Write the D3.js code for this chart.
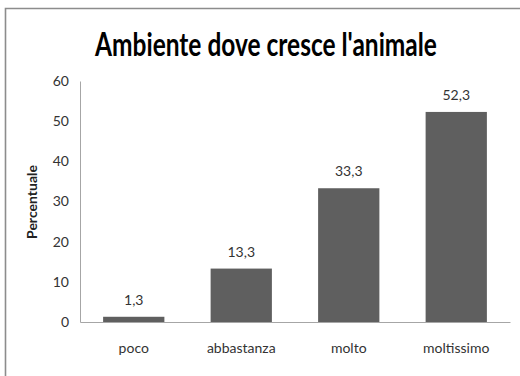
<!DOCTYPE html>
<html>
<head>
<meta charset="utf-8">
<script src="https://cdn.jsdelivr.net/npm/d3@7"></script>
<style>
  html, body { margin: 0; padding: 0; background: #fff; }
  svg { display: block; }
  text { font-family: Lato, "Open Sans", sans-serif; }
</style>
</head>
<body>
<svg id="chart" width="520" height="376"></svg>
<script>
const categories = ["poco", "abbastanza", "molto", "moltissimo"];
const values = [1.3, 13.3, 33.3, 52.3];
const yTicks = [0, 10, 20, 30, 40, 50, 60];
const title = "Ambiente dove cresce l'animale";
const yLabel = "Percentuale";

const svg = d3.select("#chart");
const W = 520, H = 376;
const plot = { left: 80, right: 510, top: 81, bottom: 322 };

// outer frame (left and top edges visible)
svg.append("path")
  .attr("d", `M5.5,${H} L5.5,8.5 L${W},8.5`)
  .attr("fill", "none")
  .attr("stroke", "#8c8c8c")
  .attr("stroke-width", 1.6);

const x = d3.scaleBand().domain(categories).range([plot.left, plot.right]).paddingInner(0.43).paddingOuter(0.215);
const y = d3.scaleLinear().domain([0, 60]).range([plot.bottom, plot.top]);

// title, condensed horizontally to a fixed width
const titleG = svg.append("g");
const titleText = titleG.append("text")
  .attr("x", 0).attr("y", 0)
  .attr("text-anchor", "middle")
  .attr("font-size", 32).attr("font-weight", "bold")
  .attr("fill", "#000")
  .text(title);
const natural = titleText.node().getComputedTextLength();
titleG.attr("transform", `translate(266,56) scale(${342 / natural},1)`);

// y axis
const yAxis = svg.append("g").attr("transform", `translate(${plot.left},0)`)
  .call(d3.axisLeft(y).tickValues(yTicks).tickSize(0).tickPadding(11).tickFormat(d3.format("d")));
yAxis.select(".domain").attr("stroke", "#a6a6a6").attr("stroke-width", 1);
yAxis.selectAll("text").attr("font-size", 14).attr("fill", "#333").attr("font-family", null);

// x axis
const xAxis = svg.append("g").attr("transform", `translate(0,${plot.bottom})`)
  .call(d3.axisBottom(x).tickSize(0).tickPadding(21));
xAxis.select(".domain").attr("stroke", "#a6a6a6").attr("stroke-width", 1);
xAxis.selectAll("text").attr("font-size", 14).attr("fill", "#333").attr("font-family", null);

// y title
svg.append("text")
  .attr("transform", `translate(37,202) rotate(-90)`)
  .attr("text-anchor", "middle")
  .attr("font-size", 14).attr("font-weight", "bold")
  .attr("fill", "#222")
  .text(yLabel);

// bars
svg.append("g").selectAll("rect").data(values).join("rect")
  .attr("x", (d, i) => x(categories[i]))
  .attr("width", x.bandwidth())
  .attr("y", d => y(d))
  .attr("height", d => y(0) - y(d))
  .attr("fill", "#5f5f5f");

// value labels
svg.append("g").selectAll("text").data(values).join("text")
  .attr("x", (d, i) => x(categories[i]) + x.bandwidth() / 2)
  .attr("y", d => y(d) - 12)
  .attr("text-anchor", "middle")
  .attr("font-size", 14).attr("fill", "#333")
  .text(d => d3.format(".1f")(d).replace(".", ","));
</script>
</body>
</html>
